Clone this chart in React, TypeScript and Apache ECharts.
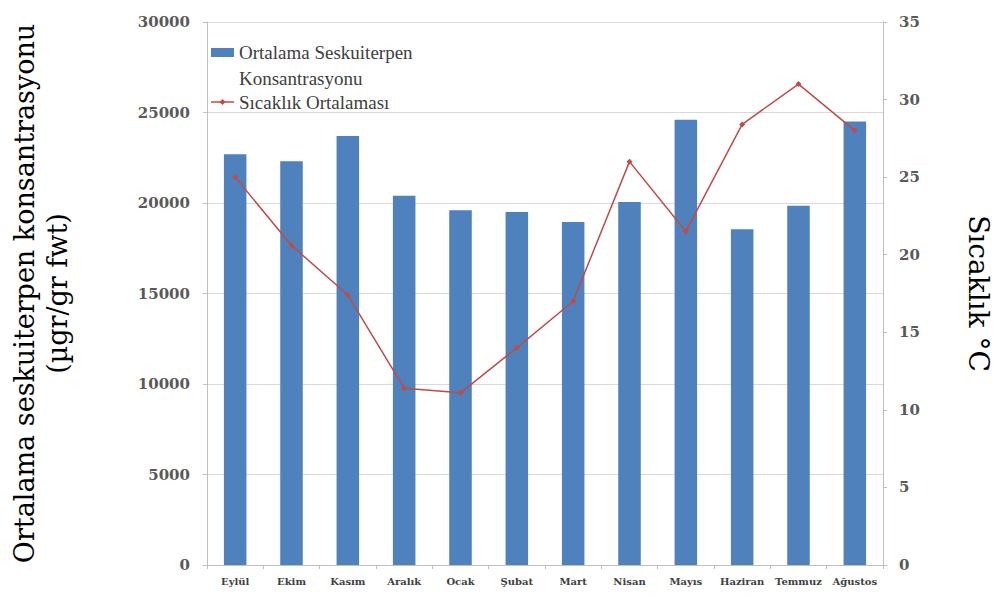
import React, { useEffect, useRef } from "react";
import * as echarts from "echarts";

const months = ["Eylül", "Ekim", "Kasım", "Aralık", "Ocak", "Şubat", "Mart", "Nisan", "Mayıs", "Haziran", "Temmuz", "Ağustos"];
const seskuiterpen = [22700, 22300, 23700, 20400, 19600, 19500, 18950, 20050, 24600, 18550, 19850, 24500];
const sicaklik = [25, 20.6, 17.4, 11.4, 11.1, 14.0, 17.0, 26, 21.5, 28.4, 31, 28];

const barName = "Ortalama Seskuiterpen Konsantrasyonu";
const lineName = "Sıcaklık Ortalaması";
const barLegendLines = ["Ortalama Seskuiterpen", "Konsantrasyonu"];

const BAR_COLOR = "#4f81bd";
const LINE_COLOR = "#be4b48";

export default function App() {
  const ref = useRef<HTMLDivElement>(null);
  useEffect(() => {
    if (!ref.current) return;
    const chart = echarts.init(ref.current, null, { renderer: "svg" });
    const serif = "DejaVu Serif";
    const lx = 211;
    const tx = 239;
    const lt = (text: string, y: number) => ({
      type: "text",
      x: tx,
      y,
      z: 100,
      style: {
        text,
        fontFamily: "Liberation Serif",
        fontSize: 19,
        fill: "#404040",
        verticalAlign: "middle",
        align: "left",
      },
    });
    chart.setOption({
      animation: false,
      backgroundColor: "#ffffff",
      textStyle: { fontFamily: serif },
      grid: { left: 175, right: 96, top: 22, bottom: 42 },
      legend: { show: false, data: [barName, lineName] },
      graphic: [
        { type: "rect", shape: { x: lx, y: 48, width: 23, height: 9 }, style: { fill: BAR_COLOR }, z: 100 },
        lt(barLegendLines[0], 52),
        lt(barLegendLines[1], 78),
        { type: "line", shape: { x1: lx, y1: 102, x2: lx + 23, y2: 102 }, style: { stroke: LINE_COLOR, lineWidth: 1.5 }, z: 100 },
        {
          type: "polygon",
          shape: { points: [[lx + 11.5, 99], [lx + 14.5, 102], [lx + 11.5, 105], [lx + 8.5, 102]] },
          style: { fill: LINE_COLOR },
          z: 100,
        },
        lt(lineName, 102),
      ],
      xAxis: {
        type: "category",
        data: months,
        axisLine: { lineStyle: { color: "#bfbfbf" } },
        axisTick: { show: true, length: 4, lineStyle: { color: "#bfbfbf" } },
        axisLabel: { interval: 0, fontFamily: serif, fontWeight: "bold", fontSize: 10, color: "#404040", margin: 11 },
      },
      yAxis: [
        {
          type: "value",
          min: 0,
          max: 30000,
          interval: 5000,
          name: "Ortalama seskuiterpen konsantrasyonu\n(µgr/gr fwt)",
          nameLocation: "middle",
          nameRotate: 90,
          nameGap: 133,
          nameTextStyle: { fontFamily: serif, fontSize: 27, color: "#000000", lineHeight: 33 },
          axisLine: { show: true, lineStyle: { color: "#bfbfbf" } },
          axisTick: { show: true, length: 4, lineStyle: { color: "#bfbfbf" } },
          axisLabel: {
            fontFamily: serif,
            fontWeight: "bold",
            fontSize: 15,
            color: "#595959",
            margin: 17,
            formatter: (v: number) => String(v),
          },
          splitLine: { lineStyle: { color: "#d9d9d9" } },
        },
        {
          type: "value",
          min: 0,
          max: 35,
          interval: 5,
          name: "Sıcaklık °C",
          nameLocation: "middle",
          nameRotate: -90,
          nameGap: 81,
          nameTextStyle: { fontFamily: serif, fontSize: 28, color: "#000000", padding: [28, 0, 0, 0] },
          axisLine: { show: true, lineStyle: { color: "#bfbfbf" } },
          axisTick: { show: true, length: 4, lineStyle: { color: "#bfbfbf" } },
          axisLabel: { fontFamily: serif, fontWeight: "bold", fontSize: 15, color: "#595959", margin: 16 },
          splitLine: { show: false },
        },
      ],
      series: [
        {
          name: barName,
          type: "bar",
          data: seskuiterpen,
          barWidth: "40%",
          itemStyle: { color: BAR_COLOR },
          yAxisIndex: 0,
        },
        {
          name: lineName,
          type: "line",
          data: sicaklik,
          yAxisIndex: 1,
          symbol: "diamond",
          symbolSize: 6,
          lineStyle: { color: LINE_COLOR, width: 1.5 },
          itemStyle: { color: LINE_COLOR },
        },
      ],
    });
    return () => chart.dispose();
  }, []);
  return <div ref={ref} style={{ width: 1000, height: 607, position: "absolute", left: 0, top: 0 }} />;
}
